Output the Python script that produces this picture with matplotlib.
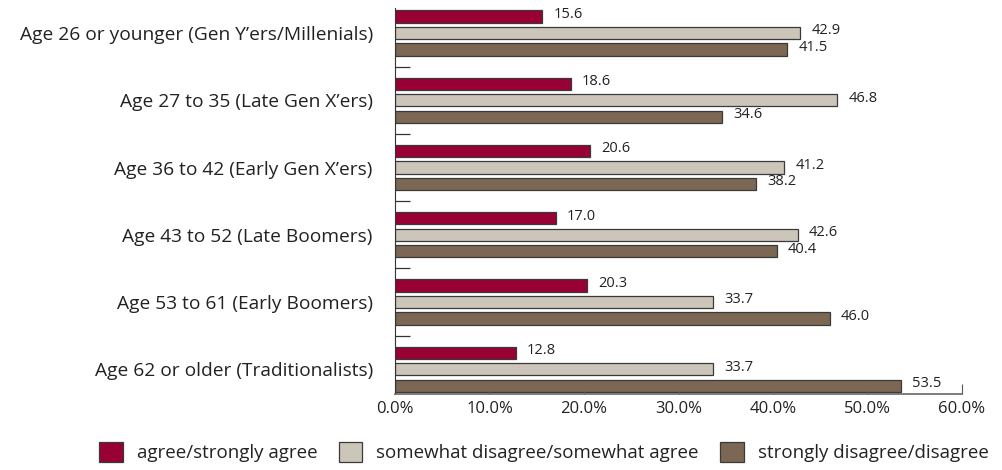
import numpy as np
import matplotlib
matplotlib.use("Agg")
import matplotlib.pyplot as plt

plt.rcParams['font.family'] = ['Open Sans', 'DejaVu Sans']

# Data
groups = ["Age 26 or younger (Gen Y\u2019ers/Millenials)",
          "Age 27 to 35 (Late Gen X\u2019ers)",
          "Age 36 to 42 (Early Gen X\u2019ers)",
          "Age 43 to 52 (Late Boomers)",
          "Age 53 to 61 (Early Boomers)",
          "Age 62 or older (Traditionalists)"]
series_names = ["agree/strongly agree",
                "somewhat disagree/somewhat agree",
                "strongly disagree/disagree"]
agree = [15.6, 18.6, 20.6, 17.0, 20.3, 12.8]
somewhat = [42.9, 46.8, 41.2, 42.6, 33.7, 33.7]
disagree = [41.5, 34.6, 38.2, 40.4, 46.0, 53.5]
xticks = [0, 10, 20, 30, 40, 50, 60]

colors = ['#990033', '#CCC5BA', '#7B6753']
txt = '#222222'

fig = plt.figure(figsize=(10.03, 4.70), dpi=100)
ax = fig.add_axes([395 / 1003, 1 - 394 / 470, (962 - 395) / 1003, (394 - 8) / 470])

y = np.arange(len(groups))
offsets = [-0.245, 0, 0.245]
bh = 0.18
for vals, off, col, name in zip([agree, somewhat, disagree], offsets, colors, series_names):
    bars = ax.barh(y + off, vals, height=bh, color=col, edgecolor='#3a3a3a',
                   linewidth=0.9, label=name)
    for b, v in zip(bars, vals):
        ax.annotate(f"{v:.1f}", (b.get_width(), b.get_y() + b.get_height() / 2),
                    xytext=(8, 1.5), textcoords='offset points', va='center',
                    ha='left', fontsize=10.5, color=txt)

ax.set_xlim(0, 60)
ax.set_ylim(5.368, -0.372)

# group labels at centres, separator ticks between groups
ax.set_yticks(y)
ax.set_yticklabels(groups, fontsize=13.8, color=txt)
ax.tick_params(axis='y', which='major', length=0, pad=16)
ax.set_yticks(y[:-1] + 0.5, minor=True)
ax.tick_params(axis='y', which='minor', direction='in', length=11, width=0.9,
               color='#333333')

ax.set_xticks(xticks)
ax.set_xticklabels([f"{t:.1f}%" for t in xticks], fontsize=12, color=txt)
ax.tick_params(axis='x', direction='in', length=2.5, width=0.8, pad=5,
               color='#555555')
ax.xaxis.get_major_ticks()[-1].tick1line.set_markersize(7)

for s in ['top', 'right']:
    ax.spines[s].set_visible(False)
ax.spines['left'].set_color('#333333')
ax.spines['bottom'].set_color('#666666')
ax.spines['bottom'].set_linewidth(1.2)

fig.legend(loc='center', bbox_to_anchor=(544 / 1003, 1 - 452 / 470), ncol=3,
           frameon=False, fontsize=13.5, handlelength=1.25, handleheight=1.25,
           handletextpad=0.75, columnspacing=1.15, labelcolor=txt)

fig.savefig("out.png", dpi=100)
